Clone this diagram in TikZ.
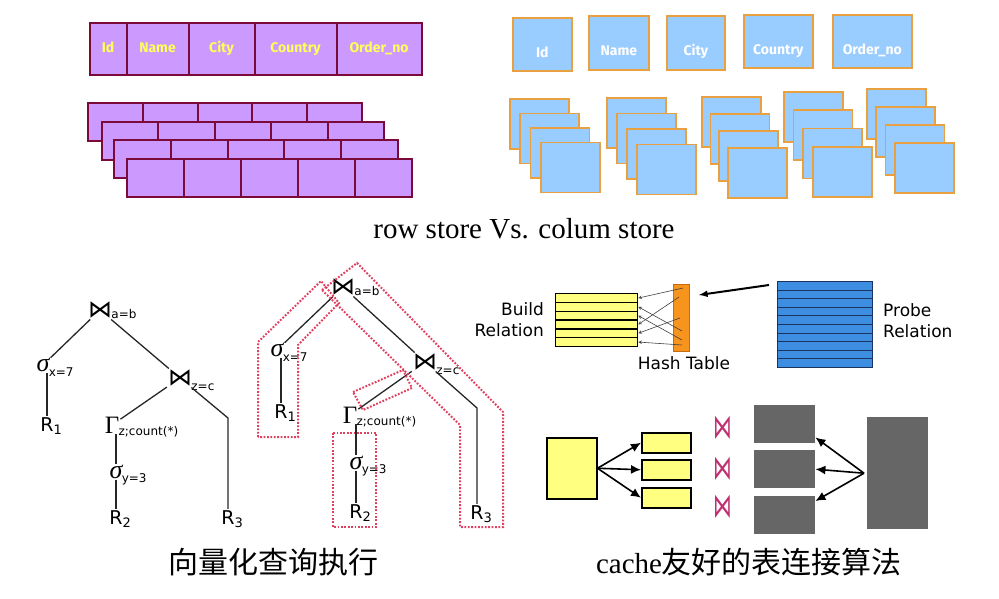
\documentclass[tikz,border=0pt]{standalone}
\usepackage{fontspec}
\setmainfont{Liberation Serif}
\newfontfamily\cjk{Noto Sans CJK SC}
\newfontfamily\dejavu{DejaVu Sans}
\newfontfamily\headfont{Fira Sans}
\usetikzlibrary{matrix}
\usetikzlibrary{arrows,arrows.meta,positioning,calc}
\usepackage{xcolor}

\definecolor{rowfill}{HTML}{CC99FF}
\definecolor{rowedge}{HTML}{7A0A3A}
\definecolor{rowtext}{HTML}{FFFF55}
\definecolor{colfill}{HTML}{99CCFF}
\definecolor{coledge}{HTML}{E8A040}
\definecolor{pipered}{HTML}{E04060}
\definecolor{buildy}{HTML}{FFFF80}
\definecolor{hashor}{HTML}{F7941D}
\definecolor{hashedge}{HTML}{C86A10}
\definecolor{probeb}{HTML}{3D8EE0}
\definecolor{probeedge}{HTML}{1C3260}
\definecolor{joinmag}{HTML}{C03070}
\definecolor{blockgray}{HTML}{666666}

\begin{document}
\begin{tikzpicture}[x=1pt,y=-1pt]

\tikzset{row head/.style={
    matrix of nodes,
    column sep=-2pt,
    anchor=north west,
    nodes={draw=rowedge,
      line width=2pt,
      fill=rowfill,
      minimum height=52pt,
      anchor=center,
      text height=10pt,
      text depth=3pt,
      inner sep=0pt,
      text=rowtext,
      font=\headfont\bfseries\fontsize{14}{14}\selectfont
    },
  },
  row cell/.style={draw=rowedge, line width=2pt, fill=rowfill,
    minimum height=38pt, inner sep=0pt, anchor=north west},
  col cell/.style={draw=coledge, line width=1.6pt, fill=colfill,
    inner sep=0pt, anchor=north west, text=white,
    font=\headfont\bfseries\fontsize{14}{14}\selectfont},
  col head/.style={col cell, text height=26pt, text depth=0pt},
  bowtie/.style={font=\dejavu\fontsize{24}{24}\selectfont, inner sep=1pt},
  sel/.style={font=\itshape\fontsize{26}{26}\selectfont, inner sep=1pt},
  grp/.style={font=\fontsize{25}{25}\selectfont, inner sep=1pt},
  rel/.style={font=\dejavu\fontsize{19}{19}\selectfont, inner sep=2pt},
  sub/.style={font=\dejavu\fontsize{12}{12}\selectfont, inner sep=0pt, yshift=-7pt, xshift=-2pt},
  relsub/.style={font=\dejavu\fontsize{13}{13}\selectfont, inner sep=0pt, yshift=-5pt, xshift=-2.5pt},
  edge/.style={draw=black!85, line width=1.3pt},
  pipe/.style={draw=pipered, line width=2pt, dash pattern=on 1.8pt off 1.6pt},
  hj text/.style={font=\dejavu\fontsize{17}{21}\selectfont, inner sep=0pt},
  build row/.style={draw=black, line width=1.3pt, fill=buildy, minimum width=82pt,
    minimum height=8.8pt, inner sep=0pt, anchor=north west},
  probe row/.style={draw=probeedge, line width=1pt, fill=probeb, minimum width=95pt,
    minimum height=8.6pt, inner sep=0pt, anchor=north west},
  thin arrow/.style={draw=black!75, line width=0.6pt, -stealth},
  cache box/.style={draw=black, line width=1.5pt, fill=buildy, inner sep=0pt, anchor=north west},
  gray block/.style={fill=blockgray, inner sep=0pt, anchor=north west},
  cache arrow/.style={draw=black, line width=1.6pt, -{Latex[length=10pt,width=9pt]}},
  caption/.style={font=\fontsize{29}{29}\selectfont, inner sep=0pt}
}

\useasboundingbox (0,0) rectangle (999,598);

% row store
\matrix[row head] (rh) at (85,18)
{
|[minimum width=37pt]| Id & |[minimum width=62pt]| Name & |[minimum width=66pt]| City &
|[minimum width=82pt]| Country & |[minimum width=85pt]| Order\_no \\
};

\foreach \x/\y/\w [count=\i] in {87/102/274, 101/121/282, 113/139/284, 126/158/285}{
  \pgfmathsetmacro\cw{\w/5}
  \foreach \j in {0,...,4}
    \node[row cell, minimum width=\cw pt] (row\i-\j) at (\x+\j*\cw, \y) {};
}

% column store
\foreach \a/\b/\c/\d/\t [count=\i] in {512/17/571/70/Id, 588/15/648/69/Name,
    666/15/724/69/City, 743/14/812/67/Country, 832/14/911/67/Order\_no}{
  \pgfmathsetmacro\boxw{\c-\a}
  \pgfmathsetmacro\boxh{\d-\b}
  \node[col head, minimum width=\boxw pt, minimum height=\boxh pt] (ch\i) at (\a,\b) {\t};
}

\foreach \x/\y/\dx/\dy [count=\s] in {509/98/10.3/14.5, 606/97/10/15.5,
    701/96/8.7/17, 783/91/9.7/18.3, 866/88/9.3/18}{
  \foreach \k in {0,...,3}
    \node[col cell, minimum width=59pt, minimum height=50pt] (st\s-\k) at (\x+\k*\dx, \y+\k*\dy) {};
}

\node[caption] (cap1) at (524,229) {row store Vs. colum store};

% query tree
\node[bowtie, label={[sub,yshift=3pt]right:a=b}] (ja) at (100,310) {⋈};
\node[sel, label={[sub]right:x=7}] (sa) at (43,365) {σ};
\node[rel, label={[relsub]right:1}] (ra) at (47,425) {R};
\node[bowtie, label={[sub,yshift=-2pt]right:z=c}] (jb) at (180,378) {⋈};
\node[grp, label={[sub]right:z;count(*)}] (ga) at (112,425) {Γ};
\node[sel, label={[sub]right:y=3}] (sb) at (116,472) {σ};
\node[rel, label={[relsub]right:2}] (rb) at (116,518) {R};
\node[rel, label={[relsub]right:3}] (rc) at (228,518) {R};
\coordinate (kb) at (228,418);

\draw[edge] (ja) -- (sa);
\draw[edge] (ra |- sa.south) -- (ra);
\draw[edge] (ja) -- (jb);
\draw[edge] (jb) -- (ga);
\draw[edge] (sb |- ga.south) -- (sb);
\draw[edge] (rb |- sb.south) -- (rb);
\draw[edge] (jb) -- (kb) -- (rc);

% same tree, split into pipelines
\node[bowtie, label={[sub,yshift=3pt]right:a=b}] (ja2) at (343,287) {⋈};
\node[sel, label={[sub]right:x=7}] (sa2) at (277,350) {σ};
\node[rel, label={[relsub]right:1}] (ra2) at (281,412) {R};
\node[bowtie, label={[sub,yshift=-2pt]right:z=c}] (jb2) at (425,362) {⋈};
\node[grp, label={[sub]right:z;count(*)}] (ga2) at (350,415) {Γ};
\node[sel, label={[sub]right:y=3}] (sb2) at (356,463) {σ};
\node[rel, label={[relsub]right:2}] (rb2) at (356,512) {R};
\node[rel, label={[relsub]right:3}] (rc2) at (477,513) {R};
\coordinate (kb2) at (477,408);

\draw[edge] (ja2) -- (sa2);
\draw[edge] (ra2 |- sa2.south) -- (ra2);
\draw[edge] (ja2) -- (jb2);
\draw[edge] (jb2) -- (ga2);
\draw[edge] (sb2 |- ga2.south) -- (sb2);
\draw[edge] (rb2 |- sb2.south) -- (rb2);
\draw[edge] (jb2) -- (kb2) -- (rc2);

\draw[pipe] (258,437) -- (258,342) -- (321,281) -- (339,303) -- (298,345) -- (298,437) -- cycle;
\draw[pipe] (322,290) -- (357,263) -- (503,412) -- (503,527) -- (460,527) -- (460,425) -- cycle;
\draw[pipe] (353,392) -- (403,370) -- (412,388) -- (363,410) -- cycle;
\draw[pipe] (333,433) rectangle (376,527);

\node[caption, font=\cjk\fontsize{30}{30}\selectfont] (cap2) at (273,562) {向量化查询执行};

% hash join
\foreach \k in {0,...,5}
  \node[build row] (b\k) at (555,293+\k*8.8) {};
\node[hj text, align=right, anchor=east] (bl) at (544,320) {Build\\Relation};

\node[draw=hashedge, line width=0.8pt, fill=hashor, minimum width=16pt, minimum height=67pt,
  inner sep=0pt, anchor=north west] (ht) at (673,284) {};
\node[hj text] (htl) at (684,363) {Hash Table};

\foreach \k in {0,...,9}
  \node[probe row] (p\k) at (777,281+\k*8.6) {};
\node[hj text, align=left, anchor=west] (pl) at (883,321) {Probe\\Relation};

\coordinate (h0) at (683,288);
\coordinate (h1) at (679,297);
\coordinate (h2) at (682,331);
\coordinate (h3) at (682,340);
\coordinate (h4) at (680,318);
\coordinate (h5) at (682,345);
\draw[thin arrow] (h0) -- (b0.east);
\draw[thin arrow] (h1) -- (b3.east);
\draw[thin arrow] (h2) -- (b1.east);
\draw[thin arrow] (h3) -- (b2.east);
\draw[thin arrow] (h4) -- (b4.east);
\draw[thin arrow] (h5) -- (b5.east);

\draw[draw=black, line width=2pt, -latex] ([xshift=-8pt,yshift=-4pt]p0.north west)
  -- ([xshift=9pt,yshift=-11pt]ht.north east);

% cache friendly join
\node[cache box, minimum width=50pt, minimum height=61pt] (cy) at (546,437) {};
\foreach \y [count=\i] in {432,459,487}
  \node[cache box, minimum width=49pt, minimum height=20pt] (c\i) at (641,\y) {};
\foreach \i in {1,2,3}
  \draw[cache arrow] (cy.east) -- (c\i.west);

\foreach \y [count=\i] in {428,469,507}
  \node[font=\dejavu\fontsize{34}{34}\selectfont, text=joinmag, inner sep=0pt] (jm\i) at (723,\y)
    {\scalebox{0.55}[1]{⋈}};

\foreach \y [count=\i] in {405,450,496}
  \node[gray block, minimum width=61pt, minimum height=38pt] (g\i) at (754,\y) {};
\node[gray block, minimum width=61pt, minimum height=112pt] (gb) at (867,417) {};

\draw[cache arrow] ([xshift=-3pt]gb.west) -- ([yshift=6pt]g1.south east);
\draw[cache arrow] ([xshift=-3pt]gb.west) -- (g2.east);
\draw[cache arrow] ([xshift=-3pt]gb.west) -- ([yshift=-5pt]g3.north east);

\node[caption] (cap3) at (749,562) {cache{\cjk\fontsize{30}{30}\selectfont 友好的表连接算法}};

\end{tikzpicture}
\end{document}
